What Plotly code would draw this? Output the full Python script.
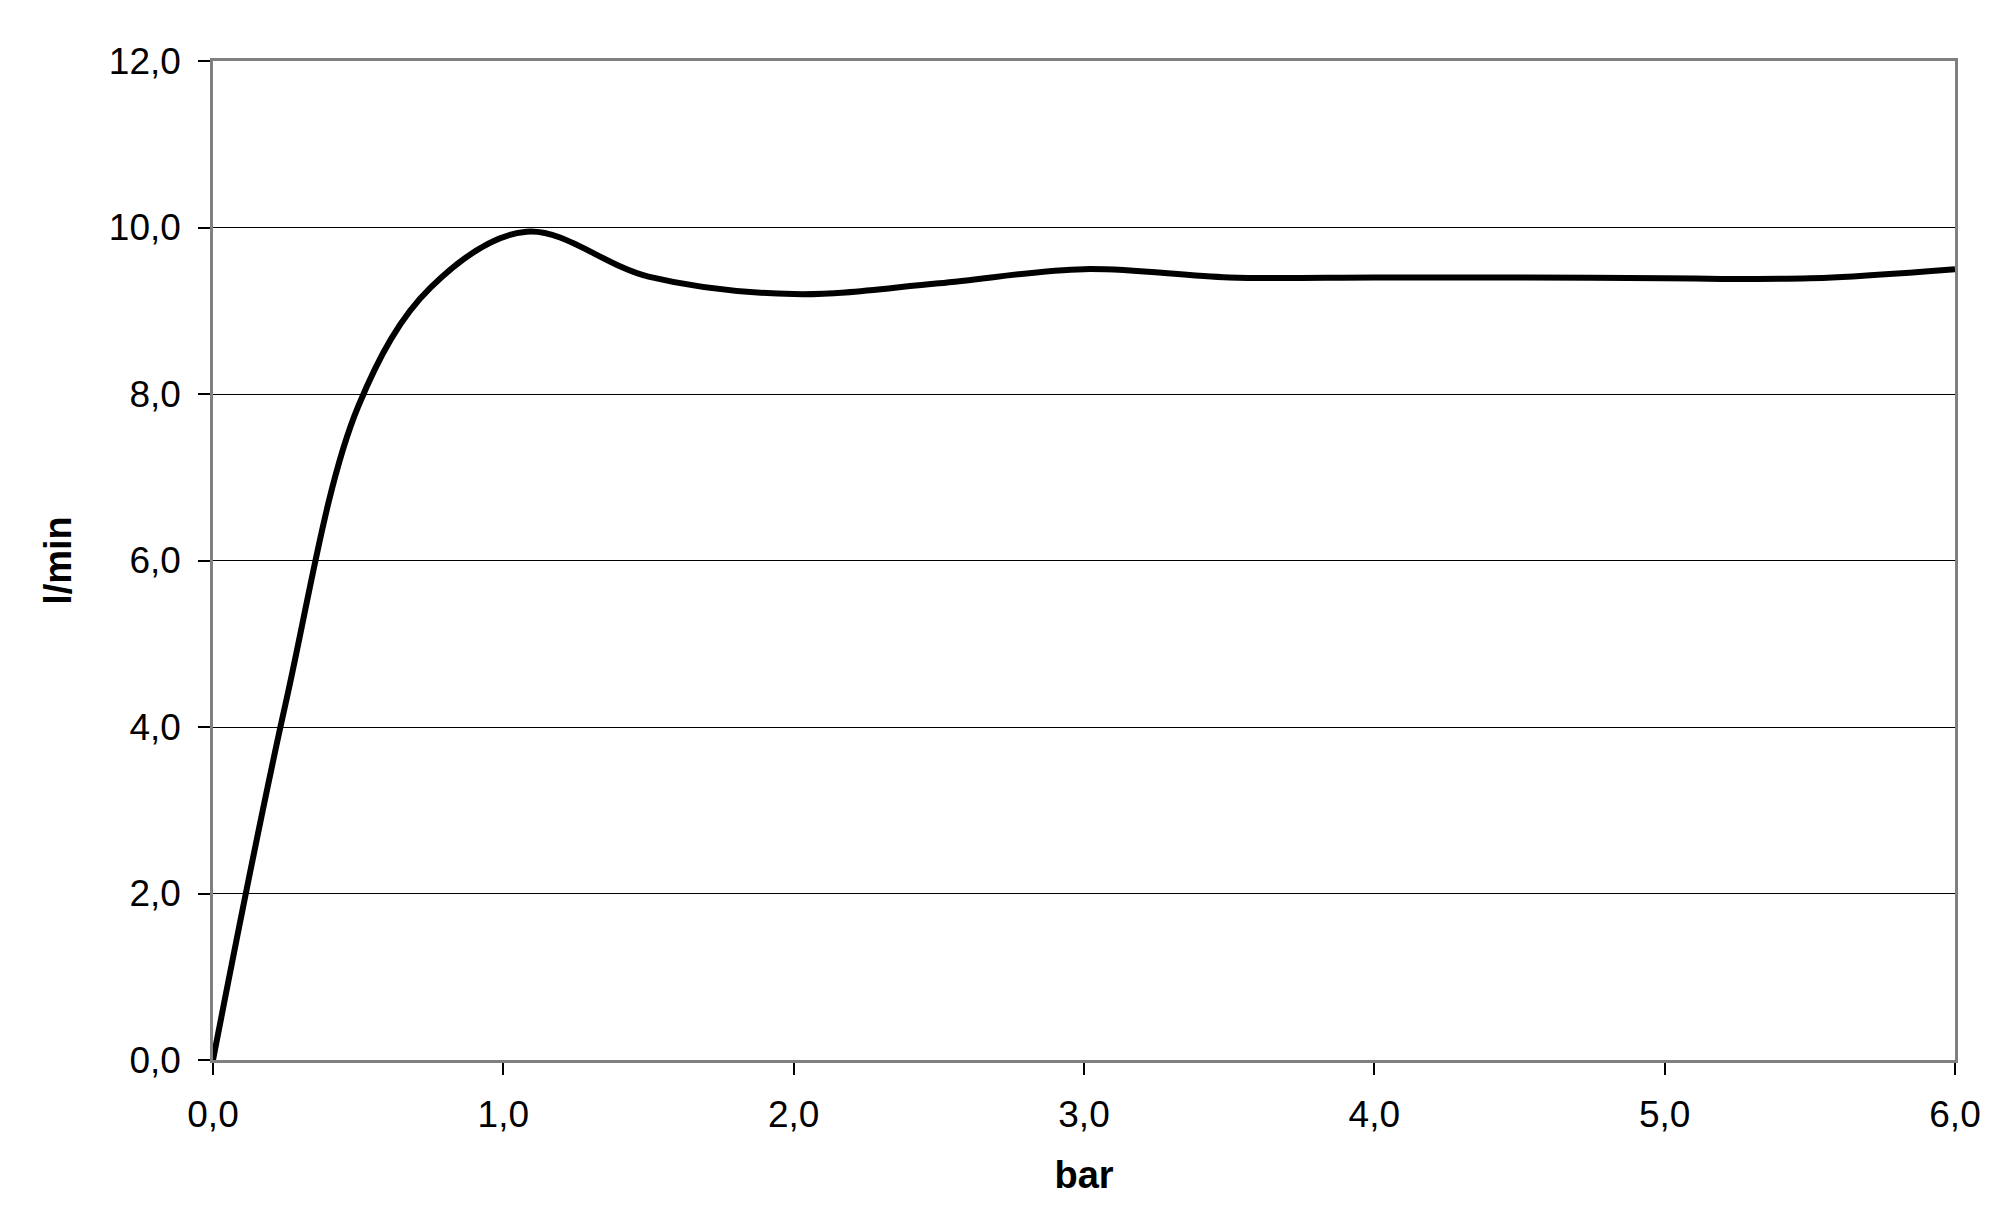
import plotly.graph_objects as go

# data (pressure in bar vs flow in l/min)
pressure_bar = [0.0, 0.25, 0.5, 0.75, 1.08, 1.5, 2.0, 2.5, 3.0, 3.5, 4.0, 4.5, 5.0, 5.5, 6.0]
flow_lpm = [0.0, 4.28, 7.85, 9.28, 9.95, 9.41, 9.20, 9.33, 9.50, 9.40, 9.40, 9.40, 9.39, 9.39, 9.50]

x_ticks = [0, 1, 2, 3, 4, 5, 6]
y_ticks = [0, 2, 4, 6, 8, 10, 12]

FONT = "Liberation Sans, Arial, Helvetica, sans-serif"

fig = go.Figure()
fig.add_trace(go.Scatter(
    x=pressure_bar, y=flow_lpm, mode="lines",
    line=dict(color="black", width=6, shape="spline", smoothing=1.0),
    showlegend=False, hoverinfo="skip",
))

axis_common = dict(
    showline=True, linecolor="#808080", linewidth=2.5, mirror=True,
    ticks="outside", ticklen=12, tickwidth=1.5, tickcolor="black",
    tickfont=dict(family=FONT, size=37, color="black"),
    tickformat=".1f", zeroline=False,
)

fig.update_xaxes(
    range=[0, 6], tickvals=x_ticks, showgrid=False, ticklabelstandoff=8,
    title=dict(text="<b>bar</b>", font=dict(family=FONT, size=38, color="black"), standoff=28),
    **axis_common,
)
fig.update_yaxes(
    range=[0, 12], tickvals=y_ticks, showgrid=True, gridcolor="black", gridwidth=1.3,
    ticklabelstandoff=10,
    title=dict(text="<b>l/min</b>", font=dict(family=FONT, size=38, color="black"), standoff=26),
    **axis_common,
)

fig.update_layout(
    width=2013, height=1221,
    margin=dict(l=205, r=66, t=53, b=169),
    paper_bgcolor="white", plot_bgcolor="white",
    separators=",.",
    font=dict(family=FONT, color="black"),
)

fig.write_html("out.html")
